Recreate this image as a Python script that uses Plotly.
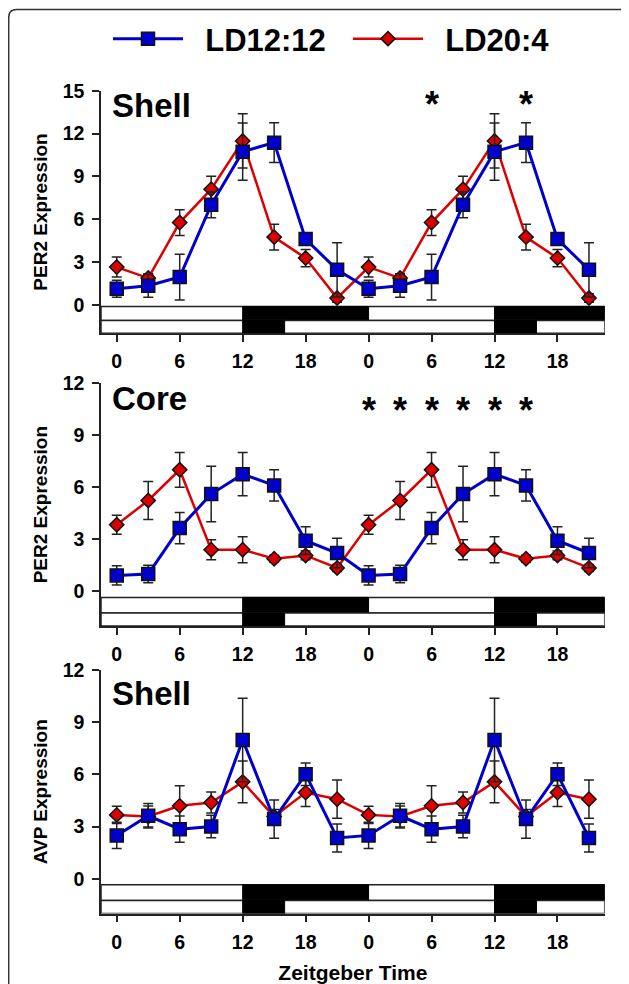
import plotly.graph_objects as go

# ---------------- data ----------------
zt_hours = [0, 3, 6, 9, 12, 15, 18, 21]          # sampling times (double plotted)
double_plot_offset = 24
x_tick_vals = [0, 6, 12, 18, 24, 30, 36, 42]
x_tick_text = ["0", "6", "12", "18", "0", "6", "12", "18"]

# Shell PER2
ld12_shell_per2 = [1.12, 1.33, 1.94, 7.00, 10.73, 11.36, 4.60, 2.45]
ld12_shell_per2_sem = [0.60, 0.80, 1.60, 0.90, 2.00, 1.40, 0.30, 1.90]
ld20_shell_per2 = [2.64, 1.87, 5.76, 8.10, 11.48, 4.74, 3.27, 0.47]
ld20_shell_per2_sem = [0.70, 0.30, 0.90, 0.90, 1.90, 0.90, 0.60, 0.30]

# Core PER2
ld12_core_per2 = [0.92, 1.00, 3.65, 5.61, 6.76, 6.11, 2.92, 2.21]
ld12_core_per2_sem = [0.55, 0.50, 0.90, 1.60, 1.25, 0.90, 0.80, 0.85]
ld20_core_per2 = [3.84, 5.24, 7.01, 2.40, 2.40, 1.88, 2.07, 1.35]
ld20_core_per2_sem = [0.55, 1.10, 1.00, 0.58, 0.75, 0.20, 0.25, 0.20]

# Shell AVP
ld12_shell_avp = [2.49, 3.62, 2.85, 3.00, 7.98, 3.43, 6.01, 2.34]
ld12_shell_avp_sem = [0.75, 0.70, 0.75, 0.65, 2.40, 1.10, 0.65, 0.80]
ld20_shell_avp = [3.67, 3.58, 4.19, 4.38, 5.57, 3.58, 4.95, 4.57]
ld20_shell_avp_sem = [0.50, 0.60, 1.15, 0.60, 1.20, 0.40, 0.80, 1.10]

# significance marks (ZT on the double-plotted axis)
sig_shell_per2 = [30, 39]
sig_core_per2 = [24, 27, 30, 33, 36, 39]

# light/dark schedules (dark intervals, h)
ld12_dark = [(12, 24), (36, 48)]
ld20_dark = [(12, 16), (36, 40)]

# ---------------- styling ----------------
FONT = "Liberation Sans, Arial, sans-serif"
BLUE = "#0000CC"
RED = "#DD0000"
AX = "#222222"
OFF = 8                      # page body margin
W, H = 629 - OFF, 984 - OFF
X_RANGE = [-1.5, 46.5]
TICK_FONT = dict(size=19.5, weight="bold", family=FONT, color="black")


def px_x(v):
    return (v - OFF) / W


def px_y(v):
    return 1 - (v - OFF) / H


x_domain = [px_x(101), px_x(604.7)]
panels = [
    dict(name="Shell", ytitle="PER2 Expression", yrange=[-2, 15], ytick=list(range(0, 16, 3)),
         dom=[px_y(333.3), px_y(90.7)], blue=ld12_shell_per2, blue_e=ld12_shell_per2_sem,
         red=ld20_shell_per2, red_e=ld20_shell_per2_sem, sig=sig_shell_per2, sig_y=14.0,
         rows=(-0.12, -1.1), title_y=106),
    dict(name="Core", ytitle="PER2 Expression", yrange=[-2, 12], ytick=list(range(0, 13, 3)),
         dom=[px_y(626), px_y(383.3)], blue=ld12_core_per2, blue_e=ld12_core_per2_sem,
         red=ld20_core_per2, red_e=ld20_core_per2_sem, sig=sig_core_per2, sig_y=10.43,
         rows=(-0.35, -1.25), title_y=398),
    dict(name="Shell", ytitle="AVP Expression", yrange=[-2, 12], ytick=list(range(0, 13, 3)),
         dom=[px_y(913.5), px_y(670)], blue=ld12_shell_avp, blue_e=ld12_shell_avp_sem,
         red=ld20_shell_avp, red_e=ld20_shell_avp_sem, sig=[], sig_y=None,
         rows=(-0.35, -1.25), title_y=693),
]

xs = zt_hours + [t + double_plot_offset for t in zt_hours]
NB = "\u00a0\u00a0"

fig = go.Figure()
layout = dict(
    width=W, height=H, margin=dict(l=0, r=0, t=0, b=0, autoexpand=False),
    paper_bgcolor="white", plot_bgcolor="white",
    font=dict(family=FONT, color="black"),
    showlegend=True,
    legend=dict(orientation="h", x=px_x(108), xanchor="left", y=px_y(39), yanchor="middle",
                font=dict(size=31, weight="bold", family=FONT, color="black"),
                itemwidth=70, itemsizing="trace", bgcolor="rgba(0,0,0,0)",
                entrywidth=155, entrywidthmode="pixels"),
)
shapes = []
annotations = []

for i, p in enumerate(panels):
    n = "" if i == 0 else str(i + 1)
    xa, ya = "x" + n, "y" + n
    for label, vals, errs, color, sym, size, lw, rank in [
        ("LD20:4", p["red"], p["red_e"], RED, "diamond", 11, 2.5, 2),
        ("LD12:12", p["blue"], p["blue_e"], BLUE, "square", 13, 3, 1),
    ]:
        fig.add_trace(go.Scatter(
            x=xs, y=vals + vals, xaxis=xa, yaxis=ya, mode="lines+markers", name=NB + label,
            showlegend=(i == 0), legendrank=rank,
            line=dict(color=color, width=lw),
            marker=dict(symbol=sym, size=size, color=color, line=dict(color="#111111", width=1.5)),
            error_y=dict(type="data", array=errs + errs, visible=True, color=AX, thickness=1.5, width=5),
        ))
    layout["xaxis" + n] = dict(
        domain=x_domain, range=X_RANGE, anchor=ya, tickmode="array", tickvals=x_tick_vals,
        ticktext=x_tick_text, ticks="outside", ticklen=7, tickwidth=1.5, tickcolor=AX,
        showline=True, linecolor=AX, linewidth=1.5, showgrid=False, zeroline=False, automargin=False,
        tickfont=TICK_FONT, ticklabelstandoff=3,
    )
    layout["yaxis" + n] = dict(
        domain=p["dom"], range=p["yrange"], anchor=xa, tickmode="array", tickvals=p["ytick"],
        ticks="outside", ticklen=7, tickwidth=1.5, tickcolor=AX, automargin=False,
        showline=True, linecolor=AX, linewidth=1.5, showgrid=False, zeroline=False,
        tickfont=TICK_FONT, ticklabelstandoff=4,
        title=dict(text=p["ytitle"], font=dict(size=19, weight="bold", family=FONT, color="black"),
                   standoff=10),
    )
    if i == 2:
        layout["xaxis" + n]["title"] = dict(
            text="Zeitgeber Time", font=dict(size=21, weight="bold", family=FONT, color="black"),
            standoff=17)
    # LD bars
    top, mid = p["rows"]
    bottom = p["yrange"][0]
    for (y0, y1, dark) in [(mid, top, ld12_dark), (bottom, mid, ld20_dark)]:
        shapes.append(dict(type="rect", xref=xa, yref=ya, x0=X_RANGE[0], x1=X_RANGE[1], y0=y0, y1=y1,
                           fillcolor="white", line=dict(color=AX, width=1.5), layer="above"))
        for (d0, d1) in dark:
            shapes.append(dict(type="rect", xref=xa, yref=ya, x0=max(d0, X_RANGE[0]),
                               x1=min(d1, X_RANGE[1]), y0=y0, y1=y1,
                               fillcolor="black", line=dict(color="black", width=1), layer="above"))
    # panel title
    annotations.append(dict(text=p["name"], xref="paper", yref="paper", x=px_x(109.5), y=px_y(p["title_y"]),
                            xanchor="left", yanchor="middle", showarrow=False,
                            font=dict(size=33, weight="bold", family=FONT, color="black")))
    for t in p["sig"]:
        annotations.append(dict(text="*", xref=xa, yref=ya, x=t, y=p["sig_y"], xanchor="center",
                                yanchor="middle", showarrow=False,
                                font=dict(size=36, weight="bold", family=FONT, color="black")))

# outer rounded frame
fx0, fx1, fy0 = 8.7, 627.8, 9.5
r = 8
path = (f"M {px_x(fx0)},{px_y(1000)} L {px_x(fx0)},{px_y(fy0 + r)} "
        f"Q {px_x(fx0)},{px_y(fy0)} {px_x(fx0 + r)},{px_y(fy0)} "
        f"L {px_x(fx1 - r)},{px_y(fy0)} Q {px_x(fx1)},{px_y(fy0)} {px_x(fx1)},{px_y(fy0 + r)} "
        f"L {px_x(fx1)},{px_y(1000)}")
shapes.append(dict(type="path", xref="paper", yref="paper", path=path,
                   line=dict(color="#333333", width=1.5)))

layout["shapes"] = shapes
layout["annotations"] = annotations
fig.update_layout(**layout)
fig.write_html("out.html")
